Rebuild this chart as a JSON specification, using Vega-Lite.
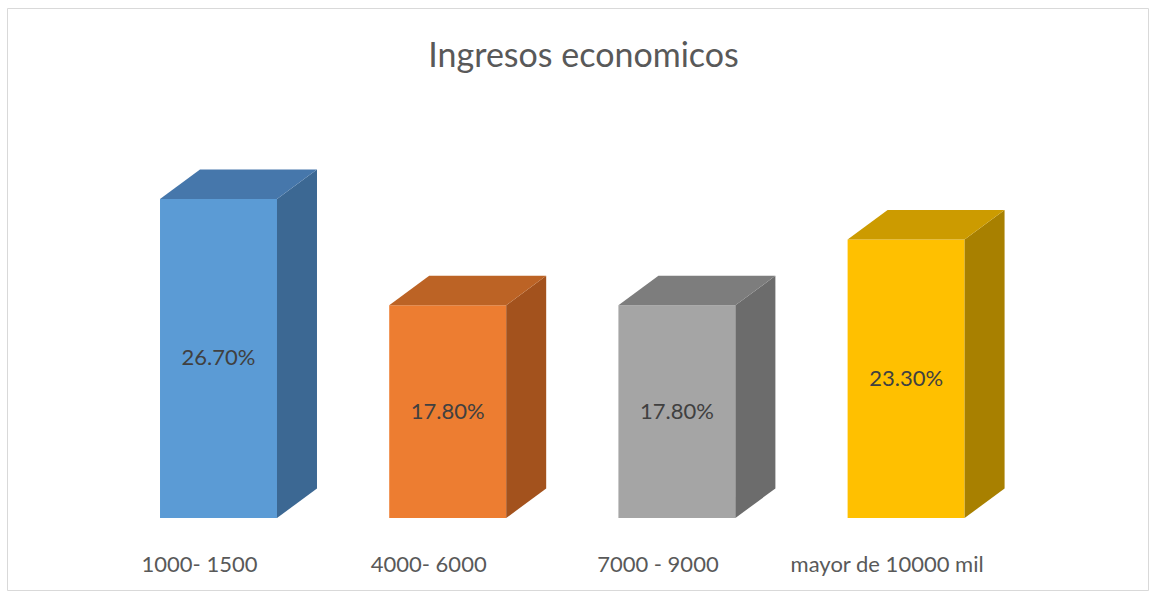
{
  "$schema": "https://vega.github.io/schema/vega-lite/v6.json",
  "width": 1141,
  "height": 582,
  "autosize": {"type": "none"},
  "padding": {"left": 7, "top": 8, "right": 6, "bottom": 3},
  "background": "white",
  "view": {"stroke": "#d9d9d9", "strokeWidth": 1},
  "config": {"font": "Lato"},
  "title": {"text": "Ingresos economicos", "fontSize": 34, "fontWeight": "normal", "color": "#595959", "font": "Lato", "anchor": "middle", "baseline": "alphabetic", "offset": -93, "dx": 6},
  "data": {"values": [
    {"cat": "1000- 1500", "pct": 26.7},
    {"cat": "4000- 6000", "pct": 17.8},
    {"cat": "7000 - 9000", "pct": 17.8},
    {"cat": "mayor de 10000 mil", "pct": 23.3}
  ]},
  "transform": [
    {"window": [{"op": "row_number", "as": "rn"}]},
    {"calculate": "datum.rn - 1", "as": "idx"},
    {"calculate": "datum.idx - 0.2552", "as": "xl"},
    {"calculate": "datum.idx + 0.2552", "as": "xr"}
  ],
  "resolve": {"scale": {"color": "independent"}},
  "layer": [
    {
      "mark": {"type": "rect"},
      "encoding": {
        "x": {"field": "xl", "type": "quantitative", "scale": {"domain": [-0.9228, 4.0554], "nice": false, "zero": false}, "axis": null},
        "x2": {"field": "xr"},
        "y": {"field": "pct", "type": "quantitative", "scale": {"domain": [-6.025, 42.678], "nice": false, "zero": false}, "axis": null},
        "y2": {"datum": 0},
        "color": {"field": "cat", "type": "nominal", "sort": null, "scale": {"domain": ["1000- 1500", "4000- 6000", "7000 - 9000", "mayor de 10000 mil"], "range": ["#5B9BD5", "#ED7D31", "#A5A5A5", "#FFC000"]}, "legend": null}
      }
    },
    {
      "transform": [
        {"calculate": "datum.xr", "as": "q0"},
        {"calculate": "datum.xr + 0.1745", "as": "q1"},
        {"fold": ["q0", "q1"], "as": ["k", "xv"]},
        {"calculate": "datum.k == 'q1' ? 2.47 : 0", "as": "lo"},
        {"calculate": "datum.pct + datum.lo", "as": "hi"}
      ],
      "mark": {"type": "area", "interpolate": "linear"},
      "encoding": {
        "x": {"field": "xv", "type": "quantitative", "scale": {"domain": [-0.9228, 4.0554], "nice": false, "zero": false}, "axis": null},
        "y": {"field": "hi", "type": "quantitative", "scale": {"domain": [-6.025, 42.678], "nice": false, "zero": false}, "axis": null},
        "y2": {"field": "lo"},
        "color": {"field": "cat", "type": "nominal", "scale": {"domain": ["1000- 1500", "4000- 6000", "7000 - 9000", "mayor de 10000 mil"], "range": ["#3C6893", "#A3521D", "#6C6C6C", "#A88000"]}, "legend": null}
      }
    },
    {
      "transform": [
        {"calculate": "datum.xl", "as": "p0"},
        {"calculate": "datum.xl + 0.1745", "as": "p1"},
        {"calculate": "datum.xr", "as": "p2"},
        {"calculate": "datum.xr + 0.1745", "as": "p3"},
        {"fold": ["p0", "p1", "p2", "p3"], "as": ["k", "xv"]},
        {"calculate": "datum.k == 'p3' ? datum.pct + 2.47 : datum.pct", "as": "lo"},
        {"calculate": "datum.k == 'p0' ? datum.pct : datum.pct + 2.47", "as": "hi"}
      ],
      "mark": {"type": "area", "interpolate": "linear"},
      "encoding": {
        "x": {"field": "xv", "type": "quantitative", "scale": {"domain": [-0.9228, 4.0554], "nice": false, "zero": false}, "axis": null},
        "y": {"field": "hi", "type": "quantitative", "scale": {"domain": [-6.025, 42.678], "nice": false, "zero": false}, "axis": null},
        "y2": {"field": "lo"},
        "color": {"field": "cat", "type": "nominal", "scale": {"domain": ["1000- 1500", "4000- 6000", "7000 - 9000", "mayor de 10000 mil"], "range": ["#4677AB", "#BC6325", "#7D7D7D", "#CC9B00"]}, "legend": null}
      }
    },
    {
      "transform": [
        {"calculate": "format(datum.pct, '.2f') + '%'", "as": "label"},
        {"calculate": "datum.pct / 2", "as": "mid"}
      ],
      "mark": {"type": "text", "fontSize": 22, "color": "#404040", "align": "center", "baseline": "middle"},
      "encoding": {
        "x": {"field": "idx", "type": "quantitative", "scale": {"domain": [-0.9228, 4.0554], "nice": false, "zero": false}, "axis": null},
        "y": {"field": "mid", "type": "quantitative", "scale": {"domain": [-6.025, 42.678], "nice": false, "zero": false}, "axis": null},
        "text": {"field": "label"}
      }
    },
    {
      "mark": {"type": "text", "fontSize": 22, "color": "#595959", "align": "center", "baseline": "middle", "dy": 47, "dx": -19},
      "encoding": {
        "x": {"field": "idx", "type": "quantitative", "scale": {"domain": [-0.9228, 4.0554], "nice": false, "zero": false}, "axis": null},
        "y": {"datum": 0, "type": "quantitative", "scale": {"domain": [-6.025, 42.678], "nice": false, "zero": false}, "axis": null},
        "text": {"field": "cat"}
      }
    }
  ]
}
